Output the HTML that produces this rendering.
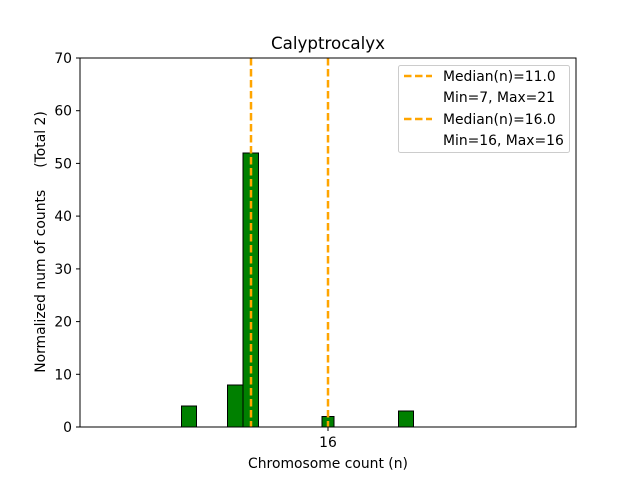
<!DOCTYPE html>
<html><head><style>body{margin:0;background:#fff}</style></head><body>
<svg width="640" height="480" xmlns="http://www.w3.org/2000/svg" font-family="DejaVu Sans, Liberation Sans, sans-serif">
<rect width="640" height="480" fill="#fff"/>
<text x="328" y="49" font-size="16.7" text-anchor="middle">Calyptrocalyx</text>
<g fill="#008000" stroke="#000" stroke-width="1">
<rect x="181.5" y="406" width="15" height="21"/>
<rect x="227.5" y="385" width="15.5" height="42"/>
<rect x="243" y="153" width="15.5" height="274"/>
<rect x="322" y="416.5" width="12" height="10.5"/>
<rect x="398.5" y="411" width="15" height="16"/>
</g>
<g stroke="#ffa500" stroke-width="2.5" stroke-dasharray="7.5,3.5">
<line x1="251" y1="58" x2="251" y2="427"/>
<line x1="328" y1="58" x2="328" y2="427"/>
</g>
<rect x="80" y="58" width="496" height="369" fill="none" stroke="#000" stroke-width="1"/>
<g stroke="#000">
<line x1="76" y1="427" x2="80" y2="427"/><line x1="76" y1="374.3" x2="80" y2="374.3"/>
<line x1="76" y1="321.6" x2="80" y2="321.6"/><line x1="76" y1="268.9" x2="80" y2="268.9"/>
<line x1="76" y1="216.1" x2="80" y2="216.1"/><line x1="76" y1="163.4" x2="80" y2="163.4"/>
<line x1="76" y1="110.7" x2="80" y2="110.7"/><line x1="76" y1="58" x2="80" y2="58"/>
<line x1="328" y1="427" x2="328" y2="431"/>
</g>
<g font-size="13.9" text-anchor="end">
<text x="72" y="432">0</text><text x="72" y="379.3">10</text><text x="72" y="326.6">20</text>
<text x="72" y="273.9">30</text><text x="72" y="221.1">40</text><text x="72" y="168.4">50</text>
<text x="72" y="115.7">60</text><text x="72" y="63">70</text>
</g>
<text x="328" y="447" font-size="13.9" text-anchor="middle">16</text>
<text x="328" y="468" font-size="13.9" text-anchor="middle">Chromosome count (n)</text>
<text transform="translate(45,242) rotate(-90)" font-size="13.9" text-anchor="middle" xml:space="preserve" style="white-space:pre">Normalized num of counts     (Total 2)</text>
<rect x="398.5" y="65.5" width="171" height="87" rx="2" fill="#fff" stroke="#ccc"/>
<g stroke="#ffa500" stroke-width="2.5" stroke-dasharray="7.5,3.5">
<line x1="404" y1="76" x2="432" y2="76"/><line x1="404" y1="119" x2="432" y2="119"/>
</g>
<g font-size="13.9">
<text x="443" y="81">Median(n)=11.0</text><text x="443" y="102">Min=7, Max=21</text>
<text x="443" y="124">Median(n)=16.0</text><text x="443" y="145">Min=16, Max=16</text>
</g>
</svg>
</body></html>
